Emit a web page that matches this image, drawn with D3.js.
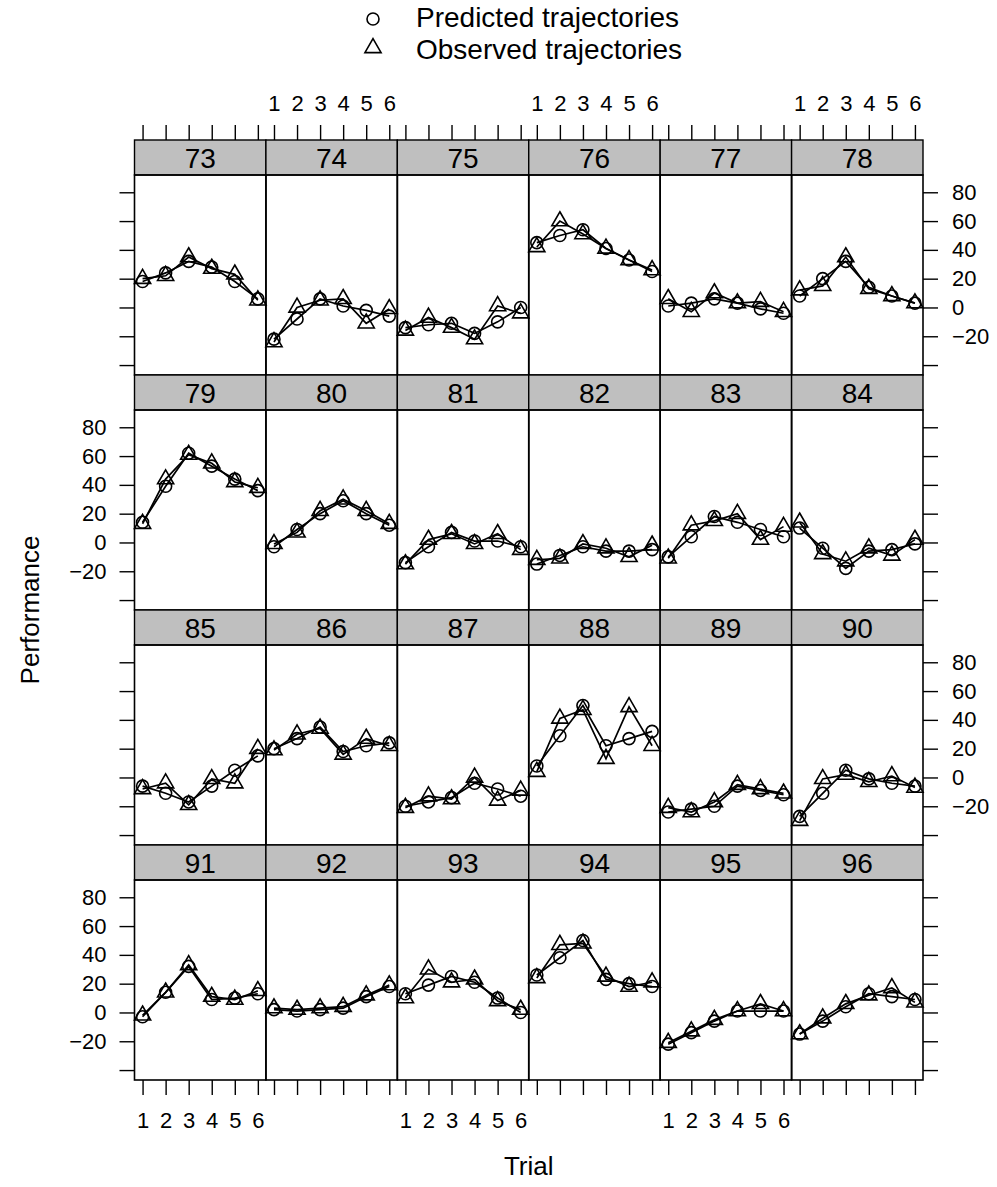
<!DOCTYPE html>
<html>
<head>
<meta charset="utf-8">
<script src="https://cdn.jsdelivr.net/npm/d3@7"></script>
<style>
  body { margin: 0; background: #fff; }
  svg { display: block; font-family: "Liberation Sans", Arial, Helvetica, sans-serif; }
  .tick line { stroke: #000; stroke-width: 1.4; }
  .tick text { fill: #000; }
</style>
</head>
<body>
<svg id="chart" width="997" height="1187"></svg>
<script>
// subjects (panel order, left to right, top to bottom) and trials
var subjects = [73, 74, 75, 76, 77, 78, 79, 80, 81, 82, 83, 84,
                85, 86, 87, 88, 89, 90, 91, 92, 93, 94, 95, 96];
var trials = [1, 2, 3, 4, 5, 6];
var yTicks = [-40, -20, 0, 20, 40, 60, 80];

// predicted trajectories (circles), one row per subject
var predicted = [
  [18, 24, 32, 28, 18, 6],
  [-22, -8, 6, 1, -2, -6],
  [-14, -12, -11, -18, -10, 0],
  [45, 50, 54, 41, 33, 25],
  [1, 3, 6, 3, -1, -4],
  [8, 20, 32, 14, 8, 3],
  [14, 39, 62, 53, 44, 36],
  [-3, 9, 20, 29, 20, 12],
  [-14, -3, 7, 1, 1, -3],
  [-15, -9, -3, -6, -6, -5],
  [-10, 4, 18, 14, 9, 4],
  [10, -4, -18, -6, -5, -1],
  [-6, -11, -17, -6, 5, 15],
  [20, 27, 35, 18, 22, 24],
  [-20, -17, -14, -4, -8, -13],
  [8, 29, 50, 22, 27, 32],
  [-24, -22, -20, -6, -9, -12],
  [-27, -11, 5, -1, -4, -6],
  [-3, 14, 32, 9, 10, 13],
  [2, 1, 2, 3, 11, 18],
  [13, 19, 25, 21, 10, 0],
  [26, 38, 50, 23, 20, 18],
  [-22, -14, -6, 1, 1, 1],
  [-15, -6, 4, 13, 11, 9]
];

// observed trajectories (triangles)
var observed = [
  [20, 22, 35, 27, 23, 5],
  [-24, 0, 5, 6, -11, -1],
  [-16, -7, -14, -22, 1, -4],
  [42, 60, 51, 41, 33, 26],
  [6, -3, 10, 3, 4, -3],
  [12, 15, 35, 13, 8, 3],
  [13, 44, 61, 55, 42, 38],
  [-1, 7, 22, 30, 22, 13],
  [-15, 2, 6, -1, 6, -5],
  [-12, -11, -1, -4, -10, -2],
  [-11, 12, 15, 20, 2, 11],
  [14, -8, -13, -4, -9, 2],
  [-8, -4, -19, -1, -4, 20],
  [19, 30, 34, 16, 27, 22],
  [-21, -13, -15, 0, -16, -9],
  [4, 41, 47, 13, 49, 22],
  [-21, -24, -17, -5, -8, -11],
  [-30, -1, 2, -3, 1, -7],
  [-2, 14, 33, 11, 9, 15],
  [3, 2, 3, 4, 12, 19],
  [10, 30, 21, 23, 8, 2],
  [24, 47, 48, 25, 18, 21],
  [-21, -13, -5, 1, 6, 1],
  [-15, -4, 6, 12, 17, 7]
];

var svg = d3.select("#chart");
var nCol = 6, nRow = 4;
var left = 134.5, right = 923, top0 = 140;
var colW = (right - left) / nCol;
var stripH = 35, panelH = 200, rowH = stripH + panelH;
var tick = 15;
var font = "'Liberation Sans', Arial, Helvetica, sans-serif";

var x = d3.scaleLinear().domain([0.65, 6.35]).range([0, colW]);
var y = d3.scaleLinear().domain([-46.9, 92]).range([panelH, 0]);

// triangle as R draws pch = 2 (r = circle radius)
var cr = 6;
function tri(px, py) {
  var r = cr * 1.5551, xc = cr * 1.3468, yc = cr * 0.7776;
  return "M" + px + "," + (py - r) + "L" + (px + xc) + "," + (py + yc) +
         "L" + (px - xc) + "," + (py + yc) + "Z";
}

function styleAxis(a) {
  a.select(".domain").remove();
  a.attr("font-size", 22).attr("font-family", font);
}

var line = d3.line().x(function (d, i) { return x(trials[i]); }).y(function (d) { return y(d); });

subjects.forEach(function (s, k) {
  var col = k % nCol, row = Math.floor(k / nCol);
  var gx = left + col * colW, gy = top0 + row * rowH;
  var g = svg.append("g").attr("transform", "translate(" + gx + "," + gy + ")");

  // strip
  g.append("rect").attr("width", colW).attr("height", stripH)
    .attr("fill", "#bfbfbf").attr("stroke", "#000").attr("stroke-width", 1.4);
  g.append("text").attr("x", colW / 2).attr("y", stripH / 2 + 10)
    .attr("text-anchor", "middle").attr("font-size", 28).text(s);

  var p = g.append("g").attr("transform", "translate(0," + stripH + ")");
  p.append("rect").attr("width", colW).attr("height", panelH)
    .attr("fill", "none").attr("stroke", "#000").attr("stroke-width", 1.6);

  // axes: ticks everywhere on the outside, labels alternate
  if (col === 0) {
    p.append("g").call(d3.axisLeft(y).tickValues(yTicks).tickSize(tick).tickPadding(13)
      .tickFormat(function (v) { return (row % 2 === 1 && v > -40) ? d3.format("d")(v) : ""; }))
      .call(styleAxis);
  }
  if (col === nCol - 1) {
    p.append("g").attr("transform", "translate(" + colW + ",0)")
      .call(d3.axisRight(y).tickValues(yTicks).tickSize(tick).tickPadding(14)
      .tickFormat(function (v) { return (row % 2 === 0 && v > -40) ? d3.format("d")(v) : ""; }))
      .call(styleAxis);
  }
  if (row === 0) {
    g.append("g").call(d3.axisTop(x).tickValues(trials).tickSize(tick).tickPadding(14)
      .tickFormat(function (v) { return col % 2 === 1 ? v : ""; }))
      .call(styleAxis);
  }
  if (row === nRow - 1) {
    p.append("g").attr("transform", "translate(0," + panelH + ")")
      .call(d3.axisBottom(x).tickValues(trials).tickSize(tick).tickPadding(17)
      .tickFormat(function (v) { return col % 2 === 0 ? v : ""; }))
      .call(styleAxis);
  }

  // lines and symbols
  p.append("path").attr("d", line(predicted[k])).attr("fill", "none")
    .attr("stroke", "#000").attr("stroke-width", 1.7);
  p.append("path").attr("d", line(observed[k])).attr("fill", "none")
    .attr("stroke", "#000").attr("stroke-width", 1.7);
  p.selectAll("circle.pr").data(predicted[k]).join("circle").attr("class", "pr")
    .attr("cx", function (d, i) { return x(trials[i]); }).attr("cy", function (d) { return y(d); })
    .attr("r", cr).attr("fill", "none").attr("stroke", "#000").attr("stroke-width", 1.6);
  p.selectAll("path.ob").data(observed[k]).join("path").attr("class", "ob")
    .attr("d", function (d, i) { return tri(x(trials[i]), y(d)); })
    .attr("fill", "none").attr("stroke", "#000").attr("stroke-width", 1.6);
});

// legend
var lg = svg.append("g");
lg.append("circle").attr("cx", 373).attr("cy", 19).attr("r", cr)
  .attr("fill", "none").attr("stroke", "#000").attr("stroke-width", 1.6);
lg.append("path").attr("d", tri(373, 48)).attr("fill", "none").attr("stroke", "#000").attr("stroke-width", 1.6);
lg.append("text").attr("x", 416).attr("y", 27).attr("font-size", 28).text("Predicted trajectories");
lg.append("text").attr("x", 416).attr("y", 59).attr("font-size", 28).text("Observed trajectories");

// axis titles
svg.append("text").attr("transform", "translate(39," + (top0 + nRow * rowH / 2) + ") rotate(-90)")
  .attr("text-anchor", "middle").attr("font-size", 26).text("Performance");
svg.append("text").attr("x", (left + right) / 2).attr("y", 1175)
  .attr("text-anchor", "middle").attr("font-size", 26).text("Trial");
</script>
</body>
</html>
